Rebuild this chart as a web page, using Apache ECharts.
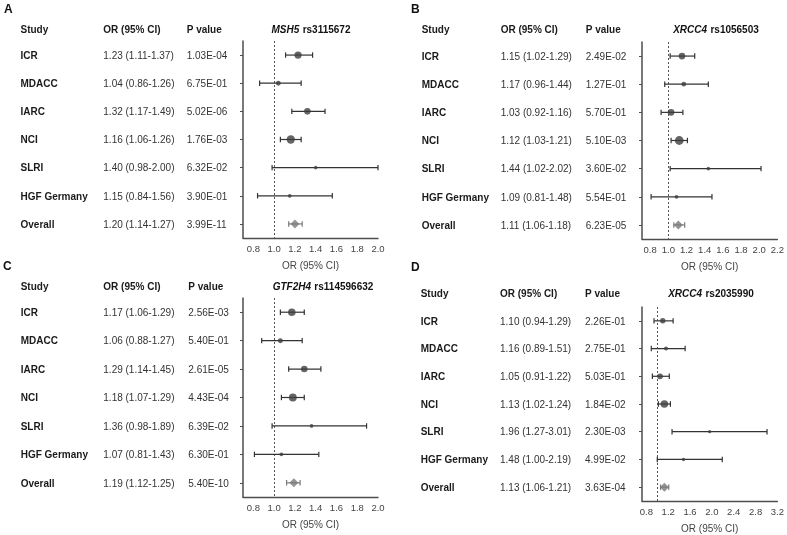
<!DOCTYPE html>
<html>
<head>
<meta charset="utf-8">
<script src="https://cdn.jsdelivr.net/npm/echarts@6/dist/echarts.min.js"></script>
<style>html,body{margin:0;padding:0;background:#fff;}#c{width:787px;height:535px;}</style>
</head>
<body>
<div id="c"></div>
<script>
const studies = ['ICR','MDACC','IARC','NCI','SLRI','HGF Germany','Overall'];

const genes = ['MSH5','XRCC4','GTF2H4','XRCC4'];
const snps = ['rs3115672','rs1056503','rs114596632','rs2035990'];
const panelLetters = ['A','B','C','D'];

const orA = [1.23,1.04,1.32,1.16,1.40,1.15,1.20];
const loA = [1.11,0.86,1.17,1.06,0.98,0.84,1.14];
const hiA = [1.37,1.26,1.49,1.26,2.00,1.56,1.27];
const pA  = ['1.03E-04','6.75E-01','5.02E-06','1.76E-03','6.32E-02','3.90E-01','3.99E-11'];

const orB = [1.15,1.17,1.03,1.12,1.44,1.09,1.11];
const loB = [1.02,0.96,0.92,1.03,1.02,0.81,1.06];
const hiB = [1.29,1.44,1.16,1.21,2.02,1.48,1.18];
const pB  = ['2.49E-02','1.27E-01','5.70E-01','5.10E-03','3.60E-02','5.54E-01','6.23E-05'];

const orC = [1.17,1.06,1.29,1.18,1.36,1.07,1.19];
const loC = [1.06,0.88,1.14,1.07,0.98,0.81,1.12];
const hiC = [1.29,1.27,1.45,1.29,1.89,1.43,1.25];
const pC  = ['2.56E-03','5.40E-01','2.61E-05','4.43E-04','6.39E-02','6.30E-01','5.40E-10'];

const orD = [1.10,1.16,1.05,1.13,1.96,1.48,1.13];
const loD = [0.94,0.89,0.91,1.02,1.27,1.00,1.06];
const hiD = [1.29,1.51,1.22,1.24,3.01,2.19,1.21];
const pD  = ['2.26E-01','2.75E-01','5.03E-01','1.84E-02','2.30E-03','4.99E-02','3.63E-04'];

const ticksA = [0.8,1.0,1.2,1.4,1.6,1.8,2.0];
const ticksB = [0.8,1.0,1.2,1.4,1.6,1.8,2.0,2.2];
const ticksC = [0.8,1.0,1.2,1.4,1.6,1.8,2.0];
const ticksD = [0.8,1.2,1.6,2.0,2.4,2.8,3.2];

const axisTitle = 'OR (95% CI)';
const headers = ['Study','OR (95% CI)','P value'];

const FONT = '"Liberation Sans", Arial, sans-serif';

const panels = [
  {or:orA, lo:loA, hi:hiA, p:pA, ticks:ticksA, min:0.7, max:2.0,
   grid:{left:243, top:41, width:135, height:197},
   cols:[20.5,103.3,186.7], headY:30, titleX:311, letter:[4,10]},
  {or:orB, lo:loB, hi:hiB, p:pB, ticks:ticksB, min:0.71, max:2.2,
   grid:{left:642, top:42, width:136, height:197},
   cols:[421.7,500.7,585.7], headY:30, titleX:716, letter:[411,10]},
  {or:orC, lo:loC, hi:hiC, p:pC, ticks:ticksC, min:0.7, max:2.0,
   grid:{left:243, top:298, width:135, height:199},
   cols:[20.7,103.3,188.3], headY:287, titleX:323, letter:[3,267]},
  {or:orD, lo:loD, hi:hiD, p:pD, ticks:ticksD, min:0.72, max:3.2,
   grid:{left:642, top:307, width:138, height:196},
   cols:[420.7,500,585], headY:294, titleX:711, letter:[411,268]}
];

function markerSize(lo, hi) {
  const se = (Math.log(hi) - Math.log(lo)) / (2 * 1.96);
  const w = 1 / (se * se);
  return 2 + 0.28 * Math.sqrt(w);
}

const grids = [], xAxes = [], yAxes = [], series = [], graphics = [];
const last = studies.length - 1;

panels.forEach((P, k) => {
  grids.push(Object.assign({containLabel:false}, P.grid));
  xAxes.push({
    type:'value', gridIndex:k, min:P.min, max:P.max,
    axisLine:{show:true, onZero:false, lineStyle:{color:'#4d4d4d', width:1.3}},
    axisTick:{show:false, customValues:P.ticks},
    splitLine:{show:false},
    axisLabel:{customValues:P.ticks, formatter:v => v.toFixed(1), color:'#444',
               fontFamily:FONT, fontSize:9.5, margin:6},
    name:axisTitle, nameLocation:'middle', nameGap:23,
    nameTextStyle:{color:'#444', fontFamily:FONT, fontSize:10}
  });
  const m = P.grid.left - P.cols[0];
  yAxes.push({
    type:'category', gridIndex:k, data:studies, inverse:true,
    axisLine:{show:true, lineStyle:{color:'#4d4d4d', width:1.5}},
    axisTick:{show:true, alignWithLabel:true, length:3, lineStyle:{color:'#4d4d4d'}},
    splitLine:{show:false},
    axisLabel:{
      align:'left', margin:m, interval:0,
      formatter:(v, i) => `{n|${v}}{o|${P.or[i].toFixed(2)} (${P.lo[i].toFixed(2)}-${P.hi[i].toFixed(2)})}{p|${P.p[i]}}`,
      rich:{
        n:{width:P.cols[1]-P.cols[0], fontWeight:'bold', color:'#1a1a1a', fontFamily:FONT, fontSize:10, padding:[2,0,0,0]},
        o:{width:P.cols[2]-P.cols[1], color:'#333', fontFamily:FONT, fontSize:10, padding:[2,0,0,0]},
        p:{color:'#333', fontFamily:FONT, fontSize:10, padding:[2,0,0,0]}
      }
    }
  });
  series.push({
    type:'custom', xAxisIndex:k, yAxisIndex:k, z:2,
    data:P.or.map((v, i) => [P.lo[i], i, P.hi[i]]),
    encode:{x:[0,2], y:1},
    renderItem:(params, api) => {
      const y = api.value(1);
      const a = api.coord([api.value(0), y]);
      const b = api.coord([api.value(2), y]);
      const col = params.dataIndex === last ? '#7a7a7a' : '#333';
      const st = {stroke:col, lineWidth:1.2};
      const h = 2.7;
      return {type:'group', children:[
        {type:'line', shape:{x1:a[0], y1:a[1], x2:b[0], y2:b[1]}, style:st},
        {type:'line', shape:{x1:a[0], y1:a[1]-h, x2:a[0], y2:a[1]+h}, style:st},
        {type:'line', shape:{x1:b[0], y1:b[1]-h, x2:b[0], y2:b[1]+h}, style:st}
      ]};
    }
  });
  series.push({
    type:'scatter', xAxisIndex:k, yAxisIndex:k, z:3,
    data:P.or.map((v, i) => ({
      value:[v, i],
      symbol: i === last ? 'diamond' : 'circle',
      symbolSize: i === last ? 9 : markerSize(P.lo[i], P.hi[i]),
      itemStyle:{color: i === last ? '#7a7a7a' : '#3d3d3d'}
    })),
    markLine:{
      silent:true, symbol:'none', label:{show:false}, z:1,
      lineStyle:{type:[2,2], color:'#555', width:1},
      data:[{xAxis:1}]
    }
  });

  headers.forEach((h, j) => {
    graphics.push({type:'text', x:P.cols[j], y:P.headY,
      style:{text:h, font:`bold 10px ${FONT}`, fill:'#1a1a1a', verticalAlign:'middle', align:'left'}});
  });
  graphics.push({type:'text', x:P.titleX, y:P.headY,
    style:{text:`{g|${genes[k]}} {s|${snps[k]}}`, align:'center', verticalAlign:'middle',
      rich:{
        g:{fontStyle:'italic', fontWeight:'bold', fontSize:10, fontFamily:FONT, fill:'#111'},
        s:{fontWeight:'bold', fontSize:10, fontFamily:FONT, fill:'#111'}
      }}});
  graphics.push({type:'text', x:P.letter[0], y:P.letter[1],
    style:{text:panelLetters[k], font:`bold 12px ${FONT}`, fill:'#111', verticalAlign:'middle', align:'left'}});
});

const chart = echarts.init(document.getElementById('c'), null, {renderer:'canvas'});
chart.setOption({
  animation:false,
  backgroundColor:'#fff',
  grid:grids, xAxis:xAxes, yAxis:yAxes, series:series, graphic:graphics
});
</script>
</body>
</html>
